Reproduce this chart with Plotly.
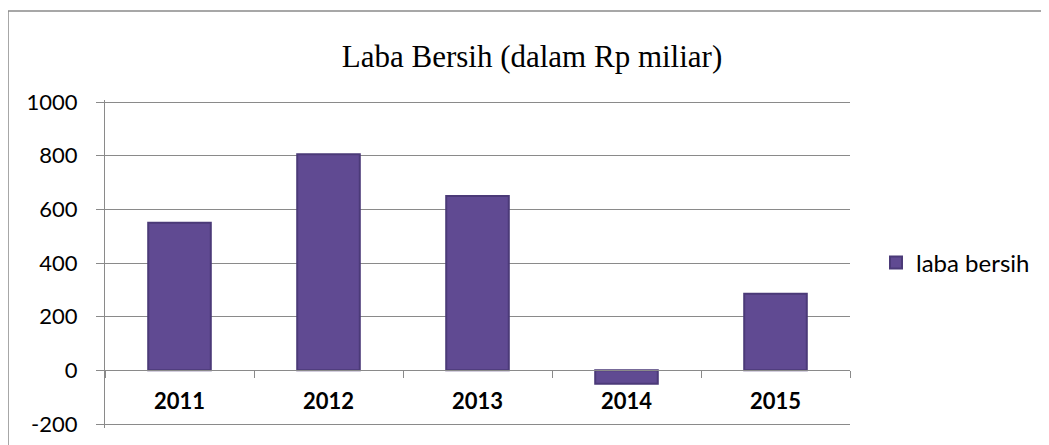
import plotly.graph_objects as go

years = ["2011", "2012", "2013", "2014", "2015"]
laba_bersih = [550, 805, 650, -50, 285]
y_ticks = [-200, 0, 200, 400, 600, 800, 1000]
title_text = "Laba Bersih (dalam Rp miliar)"
series_name = "laba bersih"

OFF = 8  # page body margin
W, H = 1049 - OFF, 445 - OFF
PL, PR, PT, PB = 105, 850, 102, 424
PAD_T, PAD_B = 2, 4
YMIN, YMAX = -200, 1000
upp = (YMAX - YMIN) / (PB - PT)
L, R, T, B = PL - OFF, PR - OFF, PT - PAD_T - OFF, PB + PAD_B - OFF
AT, AB = PT - PAD_T, PB + PAD_B

def px_x(px):
    return (px - PL) / (PR - PL)

def px_y(py):
    return (AB - py) / (AB - AT)

SANS = "Lato, Open Sans, sans-serif"
GRID = "#8A8A8A"

fig = go.Figure()
fig.add_trace(go.Bar(
    x=years, y=laba_bersih, name=series_name,
    width=0.42,
    marker=dict(color="#604A92", line=dict(color="#4B3A78", width=2)),
    showlegend=True,
))

fig.update_layout(
    width=W, height=H,
    margin=dict(l=L, r=W - R, t=T, b=H - B, autoexpand=False),
    paper_bgcolor="white", plot_bgcolor="white",
    font=dict(family=SANS, color="black", size=22),
    title=dict(text=title_text, x=(532 - OFF) / W, xanchor="center",
               y=1 - (56 - OFF) / H, yanchor="middle",
               font=dict(family="Liberation Serif, Times New Roman, serif", size=31, color="black")),
    showlegend=True,
    legend=dict(x=px_x(876), y=px_y(263), xanchor="left", yanchor="middle",
                font=dict(size=24, family=SANS),
                bgcolor="rgba(0,0,0,0)", itemwidth=30),
)

fig.update_yaxes(
    range=[YMIN - PAD_B * upp, YMAX + PAD_T * upp], tickvals=y_ticks, ticktext=[str(v) for v in y_ticks],
    showgrid=True, gridcolor=GRID, gridwidth=1.2,
    zeroline=False,
    showline=True, linecolor=GRID, linewidth=1.2,
    ticks="outside", ticklen=8, tickcolor=GRID,
    ticklabelstandoff=14,
    tickfont=dict(size=22, family=SANS),
    fixedrange=True,
)
fig.update_xaxes(
    type="category",
    anchor="free", position=px_y(370),
    showline=True, linecolor=GRID, linewidth=1.2,
    ticks="outside", ticklen=7, tickcolor=GRID, tickson="boundaries",
    showgrid=False,
    ticklabelstandoff=11,
    tickfont=dict(size=22, family=SANS, weight="bold"),
    fixedrange=True,
)

fig.add_shape(type="rect", xref="paper", yref="paper",
              x0=px_x(8), x1=px_x(1070), y0=px_y(470), y1=px_y(11),
              line=dict(color=GRID, width=1.5), fillcolor="rgba(0,0,0,0)", layer="below")

fig.write_html("out.html")
